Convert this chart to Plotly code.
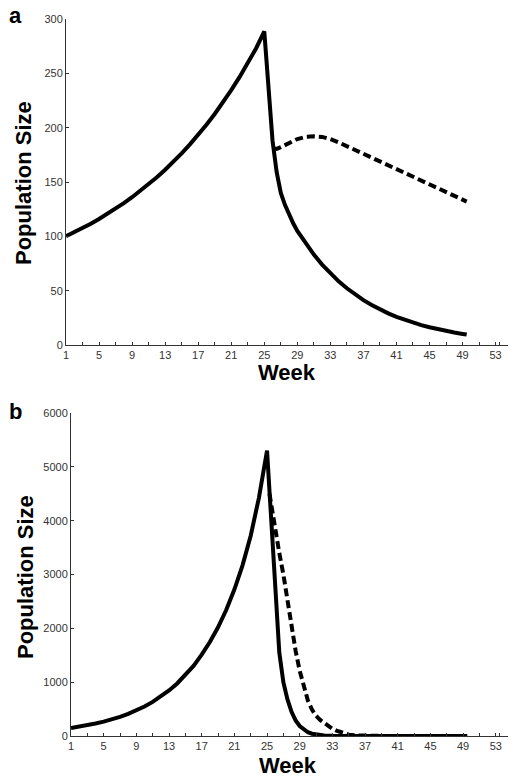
import plotly.graph_objects as go

# ---------------- data ----------------
# Panel a
weeks_a_solid = [1, 2, 3, 4, 5, 6, 7, 8, 9, 10, 11, 12, 13, 14, 15, 16, 17, 18, 19, 20,
                 21, 22, 23, 24, 25, 25.5, 26, 26.5, 27, 27.5, 28, 28.5, 29, 30, 31, 32,
                 33, 34, 35, 36, 37, 38, 39, 40, 41, 42, 43, 44, 45, 46, 47, 48, 49, 49.5]
pop_a_solid = [100, 103.7, 107.5, 111.6, 116.0, 120.6, 125.4, 130.6, 136.0, 141.8, 147.9,
               154.4, 161.3, 168.6, 176.4, 184.6, 193.4, 202.7, 212.6, 223.2, 234.5, 246.5,
               259.3, 272.9, 288.5, 236, 188, 159, 140, 129, 120, 112, 105, 93.5, 83.2, 74,
               65.9, 58.6, 52.2, 46.4, 41.3, 36.8, 32.7, 29.1, 25.9, 23.1, 20.5, 18.3, 16.3,
               14.5, 12.9, 11.5, 10.2, 9.6]

weeks_a_dashed = [26.1, 26.5, 27, 27.5, 28, 29, 30, 31, 32, 33, 34, 35, 36, 37, 38, 39, 40,
                  41, 42, 43, 44, 45, 46, 47, 48, 49, 49.5]
pop_a_dashed = [181, 180.5, 182, 184, 186, 189.5, 191.5, 192, 191.5, 189.5, 186.5, 183,
                179.5, 176, 172.5, 169, 165.5, 162, 158.5, 155, 151.5, 148, 144.5, 141,
                137.5, 134, 132]

# Panel b
weeks_b_solid = [1, 2, 3, 4, 5, 6, 7, 8, 9, 10, 11, 12, 13, 14, 15, 16, 17, 18, 19, 20,
                 21, 22, 23, 24, 25, 25.5, 26, 26.5, 27, 27.5, 28, 28.5, 29, 29.5, 30, 30.5,
                 31, 32, 33, 34, 35, 36, 37, 38, 39, 40, 41, 42, 43, 44, 45, 46, 47, 48, 49,
                 49.5]
pop_b_solid = [150, 173, 200, 231, 267, 308, 356, 411, 475, 548, 633, 731, 845, 976, 1127,
               1302, 1510, 1745, 2020, 2340, 2720, 3170, 3720, 4420, 5300, 3950, 2700, 1550,
               1000, 680, 450, 290, 185, 115, 70, 42, 25, 9, 3, 1, 0, 0, 0, 0, 0, 0, 0, 0, 0,
               0, 0, 0, 0, 0, 0, 0]

weeks_b_dashed = [25.3, 25.6, 26, 26.5, 27, 27.5, 28, 28.5, 29, 29.5, 30, 30.5, 31, 31.5, 32,
                  32.5, 33, 33.5, 34, 34.5, 35, 36, 37, 38, 39, 40, 41, 42, 43, 44, 45, 46,
                  47, 48, 49, 49.5]
pop_b_dashed = [4500, 4200, 3800, 3400, 3000, 2530, 2000, 1580, 1210, 900, 660, 490, 375, 300,
                240, 180, 135, 100, 72, 45, 25, 10, 4, 1, 0, 0, 0, 0, 0, 0, 0, 0, 0, 0, 0, 0]

x_tick_vals = [1, 5, 9, 13, 17, 21, 25, 29, 33, 37, 41, 45, 49, 53]
x_minor_vals = [3, 7, 11, 15, 19, 23, 27, 31, 35, 39, 43, 47, 51, 53.5, 54.5]
y_ticks_a = [0, 50, 100, 150, 200, 250, 300]
y_ticks_b = [0, 1000, 2000, 3000, 4000, 5000, 6000]

# ---------------- figure ----------------
W, H = 518, 783
FONT = "Liberation Sans, Arial, sans-serif"
LW = 4

fig = go.Figure()
fig.add_trace(go.Scatter(x=weeks_a_solid, y=pop_a_solid, mode="lines",
                         line=dict(color="black", width=LW), xaxis="x", yaxis="y"))
fig.add_trace(go.Scatter(x=weeks_a_dashed, y=pop_a_dashed, mode="lines",
                         line=dict(color="black", width=LW, dash="8px,4px"), xaxis="x", yaxis="y"))
fig.add_trace(go.Scatter(x=weeks_b_solid, y=pop_b_solid, mode="lines",
                         line=dict(color="black", width=LW), xaxis="x2", yaxis="y2"))
fig.add_trace(go.Scatter(x=weeks_b_dashed, y=pop_b_dashed, mode="lines",
                         line=dict(color="black", width=LW, dash="8px,4px"), xaxis="x2", yaxis="y2"))


def px_x(p):
    return p / W


def px_y(p):
    return 1 - p / H


common_x = dict(
    range=[1, 54.5], showgrid=False, zeroline=False, showline=True, linecolor="#333",
    linewidth=1, ticks="inside", ticklen=3, tickcolor="#333", tickmode="array",
    tickvals=x_tick_vals, ticktext=[str(v) for v in x_tick_vals],
    tickfont=dict(family=FONT, size=11, color="#333"),
    minor=dict(tickmode="array", tickvals=x_minor_vals, ticks="inside", ticklen=3,
               tickcolor="#333", showgrid=False),
    fixedrange=True, automargin=False,
)
common_y = dict(
    showgrid=False, zeroline=False, showline=True, linecolor="#333", linewidth=1,
    ticks="inside", ticklen=3, tickcolor="#333", tickmode="array",
    tickfont=dict(family=FONT, size=11, color="#333"), fixedrange=True, automargin=False,
)

fig.update_layout(
    template="none",
    width=W, height=H,
    margin=dict(l=0, r=0, t=0, b=0, pad=0),
    paper_bgcolor="white", plot_bgcolor="white",
    showlegend=False,
    xaxis=dict(common_x, domain=[px_x(66), px_x(508)], anchor="y"),
    yaxis=dict(common_y, domain=[px_y(345), px_y(19)], anchor="x", range=[0, 300],
               tickvals=y_ticks_a, ticktext=[str(v) for v in y_ticks_a]),
    xaxis2=dict(common_x, domain=[px_x(71), px_x(508)], anchor="y2"),
    yaxis2=dict(common_y, domain=[px_y(736), px_y(413)], anchor="x2", range=[0, 6000],
                tickvals=y_ticks_b, ticktext=[str(v) for v in y_ticks_b]),
)

title_font = dict(family=FONT, size=22, color="black")
annots = [
    dict(text="<b>a</b>", x=px_x(15), y=px_y(15)),
    dict(text="<b>b</b>", x=px_x(15), y=px_y(411)),
    dict(text="<b>Population Size</b>", x=px_x(24), y=px_y(183), textangle=-90),
    dict(text="<b>Population Size</b>", x=px_x(25), y=px_y(577), textangle=-90),
    dict(text="<b>Week</b>", x=px_x(287), y=px_y(373)),
    dict(text="<b>Week</b>", x=px_x(288), y=px_y(765)),
]
for a in annots:
    fig.add_annotation(xref="paper", yref="paper", showarrow=False, xanchor="center",
                       yanchor="middle", font=title_font, **a)

fig.write_html("out.html", config={"displayModeBar": False},
               post_script="document.body.style.margin='0';document.body.style.padding='0';")
